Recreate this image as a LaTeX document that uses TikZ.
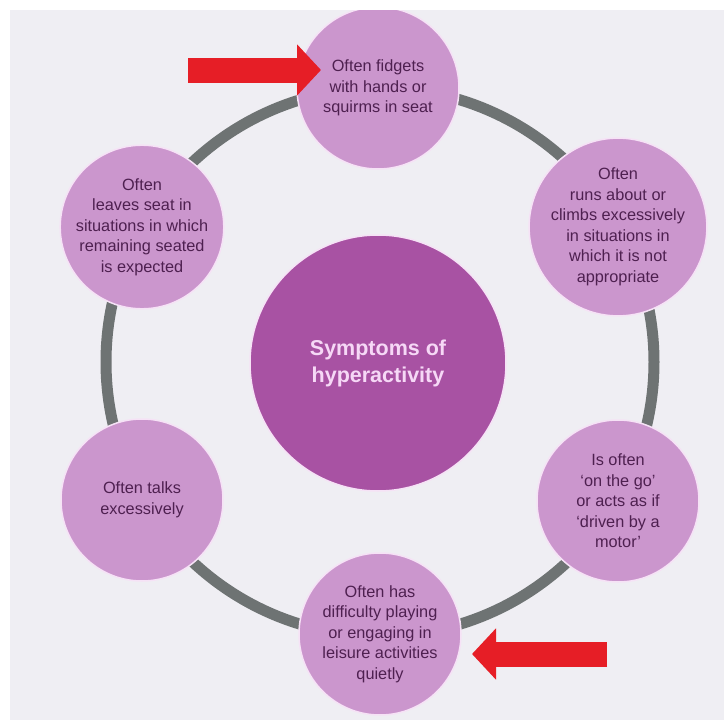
\documentclass[tikz,border=0pt]{standalone}
\usepackage{fontspec}
\setmainfont{Liberation Sans}
\usetikzlibrary{arrows.meta}
\definecolor{bgc}{RGB}{239,238,243}
\definecolor{lilac}{RGB}{203,150,205}
\definecolor{halo}{RGB}{246,226,246}
\definecolor{symtext}{RGB}{78,32,80}
\definecolor{hubc}{RGB}{168,82,163}
\definecolor{hubtext}{RGB}{246,216,246}
\definecolor{ringc}{RGB}{110,115,115}
\definecolor{arrowred}{RGB}{230,30,38}
\begin{document}
\begin{tikzpicture}[x=1pt,y=-1pt,
  sym/.style={circle, fill=lilac, draw=halo, line width=1.5pt, minimum size=162pt,
    inner sep=0pt, align=center, text=symtext, font=\fontsize{16.3}{20.5}\selectfont},
  hub/.style={circle, fill=hubc, draw=halo, line width=1.5pt, minimum size=256pt,
    inner sep=0pt, align=center, text=hubtext, font=\bfseries\fontsize{21.5}{27}\selectfont},
  ring/.style={draw=ringc, line width=11pt},
  redarrow/.style={draw=arrowred, line width=25pt,
    -{Triangle[length=24pt, width=50pt, fill=arrowred]}}]
\useasboundingbox (0,0) rectangle (724,720);
\fill[white] (0,0) rectangle (724,720);
\begin{scope}
\clip (10,10) rectangle (724,720);
\fill[bgc] (10,10) rectangle (724,720);
\draw[ring] (380,362) circle[radius=274pt];
\node[hub] (hub) at (378,363) {Symptoms of\\hyperactivity};
\node[sym] (top) at (378,88) {Often fidgets\\with hands or\\squirms in seat};
\node[sym] (tr) at (618,227) {Often\\runs about or\\climbs excessively\\in situations in\\which it is not\\appropriate};
\node[sym] (br) at (618,501) {Is often\\`on the go'\\or acts as if\\`driven by a\\motor'};
\node[sym] (bot) at (380,634) {Often has\\difficulty playing\\or engaging in\\leisure activities\\quietly};
\node[sym] (bl) at (142,500) {Often talks\\excessively};
\node[sym] (tl) at (142,227) {Often\\leaves seat in\\situations in which\\remaining seated\\is expected};
\coordinate (a1s) at (188,70);
\coordinate (a1e) at (321,70);
\coordinate (a2s) at (607,654);
\coordinate (a2e) at (472,654);
\draw[redarrow] (a1s) -- (a1e);
\draw[redarrow] (a2s) -- (a2e);
\end{scope}
\end{tikzpicture}
\end{document}
